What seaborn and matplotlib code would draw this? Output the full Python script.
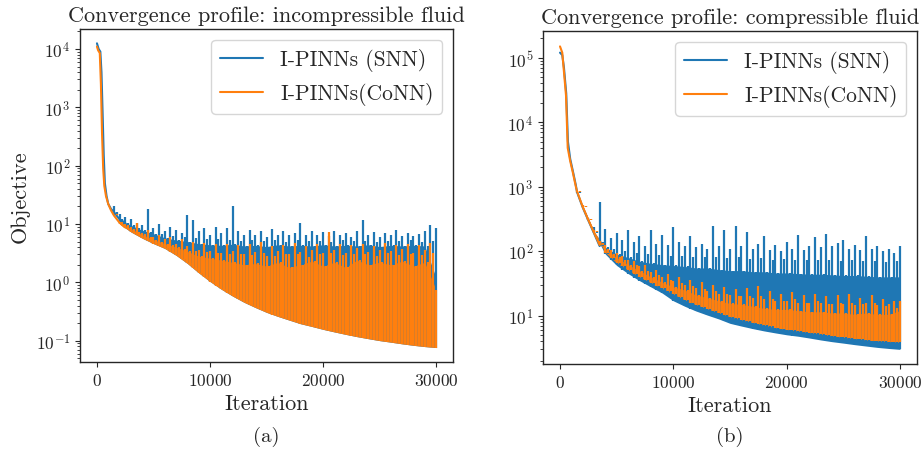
import numpy as np
import pandas as pd
import matplotlib
matplotlib.use("Agg")
import matplotlib.pyplot as plt
import seaborn as sns

# ---- data ----
# common iteration grid for the oscillating part of the runs
grid_it = np.arange(1500, 30001, 500)

# (a) incompressible fluid
inc_snn_head_it = [0, 150, 300, 400, 500, 600, 700, 850, 1000, 1250, 1500, 2000, 2500]
inc_snn_head = [12500, 10000, 9000, 4000, 800, 150, 50, 30, 22, 18, 16, 12, 10.5]
inc_conn_head_it = [0, 100, 250, 350, 450, 550, 650, 800, 1000, 1250, 1500, 2000, 2500]
inc_conn_head = [11000, 9500, 8500, 2500, 350, 90, 45, 30, 22, 17, 14, 10.5, 8.7]

inc_low = [14, 10, 8.5, 7.3, 6.4, 5.7, 5.1, 4.6, 4.2, 3.8, 3.35, 2.9, 2.5, 2.1,
           1.75, 1.45, 1.22, 1.03, 0.88, 0.76, 0.66, 0.58, 0.51, 0.455, 0.41,
           0.37, 0.335, 0.305, 0.28, 0.26, 0.24, 0.225, 0.21, 0.195, 0.185, 0.175,
           0.165, 0.156, 0.148, 0.141, 0.134, 0.128, 0.122, 0.117, 0.112, 0.108,
           0.104, 0.1, 0.097, 0.094, 0.091, 0.088, 0.085, 0.083, 0.081, 0.079,
           0.077, 0.076]
inc_conn_core = [15, 11, 9.5, 8.3, 7.4, 6.6, 6.0, 5.4, 5.0, 4.6, 4.3, 4.0, 3.7,
                 3.4, 3.4, 2.8, 3.3, 2.6, 3.2, 2.4, 3.0, 2.2, 3.1, 2.0, 2.9, 2.1,
                 3.2, 1.9, 2.8, 2.2, 3.0, 1.8, 3.1, 2.0, 2.7, 2.3, 3.0, 1.9, 3.2,
                 2.2, 2.9, 1.8, 3.0, 2.4, 3.1, 2.0, 2.8, 2.2, 3.2, 2.0, 2.9, 2.3,
                 3.0, 1.9, 2.9, 2.2, 3.2, 0.75]
inc_conn_peak = [14, 11, 10, 9, 10.5, 7, 8, 6, 6.5, 5.5, 6, 4.5, 5.5, 4.2, 5, 3.6,
                 4.8, 3.5, 4.5, 3.2, 4.6, 3.4, 4.3, 3.0, 4.5, 3.3, 5.0, 2.8, 4.2,
                 3.5, 4.4, 3.1, 4.8, 3.3, 4.2, 3.6, 4.6, 3.2, 7.2, 3.6, 4.5, 3.2,
                 4.4, 3.8, 4.6, 3.3, 4.2, 3.6, 4.8, 3.4, 4.3, 3.7, 4.5, 3.2, 4.4,
                 3.6, 4.8, 0.75]
inc_snn_core = [16, 12, 10.5, 9.5, 8.5, 7.8, 7.2, 6.8, 6.6, 5.8, 6.2, 5.3, 5.9,
                5.0, 5.8, 4.6, 5.6, 4.4, 5.5, 4.3, 5.4, 4.5, 5.2, 4.2, 5.3, 4.3,
                5.1, 4.1, 5.4, 4.4, 5.0, 4.2, 5.3, 4.3, 5.1, 4.2, 5.2, 4.4, 5.0,
                4.2, 5.3, 4.3, 5.1, 4.2, 5.2, 4.4, 5.0, 4.1, 5.2, 4.3, 5.1, 4.2,
                5.3, 4.3, 5.0, 4.2, 5.2, 1.2]
inc_snn_peak = [20, 15, 13, 12, 10.5, 9.5, 18, 8.5, 10, 7.5, 9, 8, 7, 14, 11.5,
                7.5, 8.5, 6.5, 9, 7, 8.5, 20, 7.5, 6.5, 8, 6.5, 7.5, 6, 8.2, 6.5,
                7.5, 6.5, 7, 10.3, 6.5, 7.5, 6.5, 7.2, 6.2, 7.5, 6.5, 7, 6, 7.5,
                11.7, 6.5, 7.2, 6, 7, 6.5, 7.8, 6.2, 7, 6.2, 6.8, 7.5, 9.7, 8.5]

# (b) compressible fluid
cmp_snn_head_it = [0, 200, 350, 550, 700, 900, 1150, 1400, 1500, 2000, 2500, 3000, 3500]
cmp_snn_head = [120000, 110000, 70000, 28000, 5000, 2700, 1700, 1050, 830, 480, 300,
                190, 120]
cmp_conn_head_it = [0, 200, 350, 530, 680, 900, 1120, 1400, 1500, 2000, 2500, 3000, 3500]
cmp_conn_head = [150000, 120000, 60000, 26000, 4000, 2500, 1700, 1000, 850, 490, 305,
                 195, 125]

cmp_snn_low = [800, 480, 300, 190, 120, 90, 72, 60, 52, 45, 39, 35, 31, 28, 25,
               22.5, 20.5, 17, 15.5, 14, 12.8, 11.8, 11, 10.2, 9.5, 8.9, 8.3, 7.6,
               7.2, 6.9, 6.6, 6.3, 6.0, 5.8, 5.6, 5.4, 5.2, 5.05, 4.9, 4.8, 4.65,
               4.5, 4.35, 4.2, 4.1, 3.95, 3.85, 3.75, 3.65, 3.55, 3.45, 3.38, 3.3,
               3.22, 3.15, 3.1, 3.05, 3.0]
cmp_snn_core = [820, 500, 320, 200, 140, 115, 110, 90, 100, 80, 95, 70, 90, 65,
                88, 62, 85, 60, 85, 58, 82, 55, 80, 55, 82, 52, 78, 50, 80, 50, 76,
                48, 78, 48, 74, 46, 75, 46, 72, 45, 74, 44, 72, 44, 73, 43, 70, 42,
                72, 42, 70, 41, 71, 40, 69, 40, 70, 40]
cmp_snn_peak = [830, 510, 330, 240, 580, 220, 160, 190, 150, 210, 140, 170, 120,
                210, 130, 180, 125, 236, 140, 120, 170, 115, 130, 110, 250, 120,
                210, 110, 250, 120, 197, 110, 130, 175, 105, 125, 100, 140, 110,
                180, 105, 120, 165, 115, 185, 120, 135, 150, 110, 125, 105, 170,
                110, 120, 100, 110, 95, 120]
cmp_conn_low = [820, 490, 305, 195, 125, 95, 78, 66, 58, 51, 45, 40, 36, 32.5, 29,
                26.5, 24, 21.5, 19.5, 17.5, 16, 14.8, 13.7, 12.7, 11.8, 11, 10.3,
                9.6, 9.1, 8.6, 8.2, 7.8, 7.4, 7.1, 6.8, 6.5, 6.3, 6.1, 5.9, 5.75,
                5.6, 5.45, 5.3, 5.15, 5.0, 4.85, 4.7, 4.6, 4.5, 4.4, 4.3, 4.2, 4.1,
                4.05, 4.0, 3.95, 3.9, 3.85]
cmp_conn_core = [850, 510, 320, 205, 135, 108, 92, 80, 72, 62, 60, 50, 50, 40, 42,
                 33, 36, 28, 32, 25, 29, 21, 26, 19, 24, 17, 22, 15.5, 20, 15, 20,
                 14, 20, 13, 18, 12.5, 17, 12.5, 18, 12, 16, 11.5, 17, 11.5, 15,
                 11, 16, 11, 16, 10.5, 15, 11, 16, 10.5, 14, 10.5, 13, 12]
cmp_conn_peak = [850, 520, 330, 215, 145, 125, 105, 95, 85, 72, 70, 58, 62, 48, 52,
                 40, 45, 34, 40, 30, 36, 27, 33, 24, 30, 22, 28, 21, 26, 20, 27, 19,
                 29, 18, 24, 17, 22, 17, 23, 16, 21, 15.5, 22, 16, 20, 15, 21, 15,
                 22, 14.5, 19, 16, 21, 14.5, 18, 15, 17, 17]

SNN_COLOR = "#1f77b4"
CONN_COLOR = "#ff7f0e"

sns.set_style("ticks")
plt.rcParams["font.family"] = ["cmr10", "DejaVu Serif"]
plt.rcParams["mathtext.fontset"] = "cm"
plt.rcParams["axes.formatter.use_mathtext"] = True
plt.rcParams["axes.unicode_minus"] = False


def draw_run(ax, head_it, head, low, core, peak, color, label):
    sns.lineplot(x=head_it, y=head, ax=ax, color=color, lw=1.5, label=label,
                 estimator=None, sort=False)
    low, core = np.asarray(low), np.asarray(core)
    # solid body of the band (the lower of the alternating tops)
    ax.fill_between(grid_it[1::2], low[1::2], core[1::2], color=color, lw=0)
    # oscillation strokes on top of it
    ax.vlines(grid_it[:-1] + 250, low[:-1], core[:-1], colors=color, lw=1.6)
    ax.vlines(grid_it, low, peak, colors=color, lw=1.6)


fig = plt.figure(figsize=(9.23, 4.56), dpi=100)
ax1 = fig.add_axes([80 / 923, 1 - 363 / 456, 373 / 923, 333 / 456])
ax2 = fig.add_axes([543 / 923, 1 - 365 / 456, 374 / 923, 333 / 456])

draw_run(ax1, inc_snn_head_it, inc_snn_head, inc_low, inc_snn_core, inc_snn_peak,
         SNN_COLOR, "I-PINNs (SNN)")
draw_run(ax1, inc_conn_head_it, inc_conn_head, inc_low, inc_conn_core, inc_conn_peak,
         CONN_COLOR, "I-PINNs(CoNN)")
draw_run(ax2, cmp_snn_head_it, cmp_snn_head, cmp_snn_low, cmp_snn_core, cmp_snn_peak,
         SNN_COLOR, "I-PINNs (SNN)")
draw_run(ax2, cmp_conn_head_it, cmp_conn_head, cmp_conn_low, cmp_conn_core,
         cmp_conn_peak, CONN_COLOR, "I-PINNs(CoNN)")

ax1.set_ylim(0.043, 2.2e4)
ax2.set_ylim(1.78, 2.6e5)
for ax, title in [(ax1, "Convergence profile: incompressible fluid"),
                  (ax2, "Convergence profile: compressible fluid")]:
    ax.set_yscale("log")
    ax.set_xlim(-1500, 31500)
    ax.set_xticks([0, 10000, 20000, 30000])
    ax.set_title(title, fontsize=16)
    ax.set_xlabel("Iteration", fontsize=16)
    ax.tick_params(labelsize=12.5)
    for s in ax.spines.values():
        s.set_linewidth(1.0)
    ax.legend(loc="upper right", fontsize=15.5, frameon=True)
ax1.set_ylabel("Objective", fontsize=16)

fig.text(266 / 923, 1 - 437 / 456, "(a)", ha="center", va="center", fontsize=15)
fig.text(730 / 923, 1 - 437 / 456, "(b)", ha="center", va="center", fontsize=15)

fig.savefig("out.png", dpi=100)
